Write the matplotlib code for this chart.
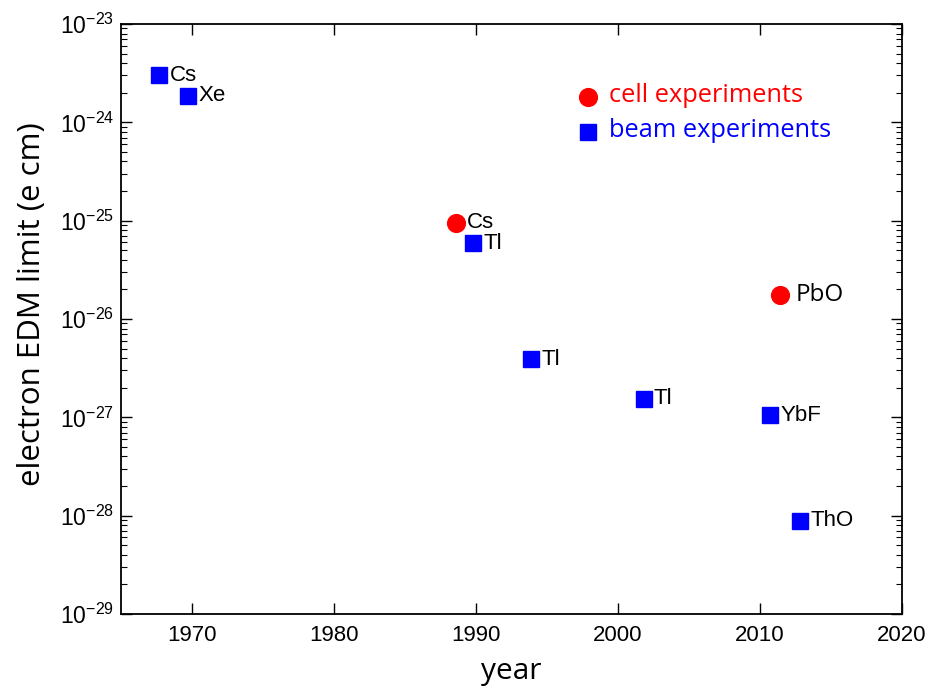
import numpy as np
import matplotlib.pyplot as plt
from matplotlib.ticker import LogLocator, NullFormatter, FixedLocator

plt.rcParams["font.family"] = ["Liberation Sans", "DejaVu Sans"]
plt.rcParams["mathtext.fontset"] = "custom"
plt.rcParams["mathtext.rm"] = "Liberation Sans"
plt.rcParams["mathtext.it"] = "Liberation Sans:italic"
plt.rcParams["mathtext.default"] = "regular"

# beam experiments
beam_year = [1967.7, 1969.7, 1989.8, 1993.85, 2001.8, 2010.7, 2012.8]
beam_limit = [3.0e-24, 1.87e-24, 5.9e-26, 3.9e-27, 1.55e-27, 1.05e-27, 8.9e-29]
beam_label = ["Cs", "Xe", "Tl", "Tl", "Tl", "YbF", "ThO"]

# cell experiments
cell_year = [1988.6, 2011.4]
cell_limit = [9.5e-26, 1.74e-26]
cell_label = ["Cs", "PbO"]

# hand-made legend entries (drawn as data points)
legend_year = [1997.9, 1997.9]
legend_limit = [1.83e-24, 8.0e-25]
legend_text = ["cell experiments", "beam experiments"]

x_ticks = [1970, 1980, 1990, 2000, 2010, 2020]
y_exp = list(range(-29, -22))

red = "#FF0000"
blue = "#0000FF"
calibri_like = ["Open Sans", "DejaVu Sans"]

fig = plt.figure(figsize=(9.33, 6.94), dpi=100)
ax = fig.add_axes([121 / 933, 80 / 694, 781 / 933, 590 / 694])

ax.plot(beam_year, beam_limit, "s", color=blue, markersize=12.2, linestyle="none")
ax.plot(cell_year, cell_limit, "o", color=red, markersize=12.8, linestyle="none")

for x, y, s in zip(beam_year, beam_limit, beam_label):
    ax.annotate(s, (x, y), xytext=(7.5, 0), textcoords="offset points",
                va="center", ha="left", fontsize=16, color="black")

ax.annotate(cell_label[0], (cell_year[0], cell_limit[0]), xytext=(7.5, 0),
            textcoords="offset points", va="center", ha="left", fontsize=16)
ax.annotate(cell_label[1], (cell_year[1], cell_limit[1]), xytext=(11.5, 0),
            textcoords="offset points", va="center", ha="left", fontsize=17.5,
            family=calibri_like)

# legend
ax.plot(legend_year[0], legend_limit[0], "o", color=red, markersize=12.8)
ax.plot(legend_year[1], legend_limit[1], "s", color=blue, markersize=12.2)
for x, y, s, c in zip(legend_year, legend_limit, legend_text, [red, blue]):
    ax.annotate(s, (x, y), xytext=(15, 1), textcoords="offset points",
                va="center", ha="left", fontsize=18.3, color=c,
                family=calibri_like)

ax.set_yscale("log")
ax.set_xlim(1965, 2020)
ax.set_ylim(1e-29, 1e-23)

ax.xaxis.set_major_locator(FixedLocator(x_ticks))
ax.set_xticklabels([str(t) for t in x_ticks])
ax.yaxis.set_minor_locator(LogLocator(base=10, subs=np.arange(2, 10), numticks=10))
ax.yaxis.set_minor_formatter(NullFormatter())
ax.set_yticks([10.0 ** k for k in y_exp])
ax.set_yticklabels([r"$10^{%d}$" % k for k in y_exp])

ax.tick_params(axis="both", which="major", direction="in", top=True, right=True,
               length=8, width=1, labelsize=16, pad=8)
ax.tick_params(axis="y", which="major", labelsize=16.5, pad=5)
ax.tick_params(axis="y", which="minor", direction="in", left=True, right=True,
               length=4, width=0.8)
for sp in ax.spines.values():
    sp.set_linewidth(1.3)

ax.set_xlabel("year", fontsize=21.5, family=calibri_like, labelpad=8)
ax.set_ylabel("electron EDM limit (e cm)", fontsize=22.5, family=calibri_like)
ax.yaxis.set_label_coords(-0.095, 0.526)

fig.savefig("out.png", dpi=100)
